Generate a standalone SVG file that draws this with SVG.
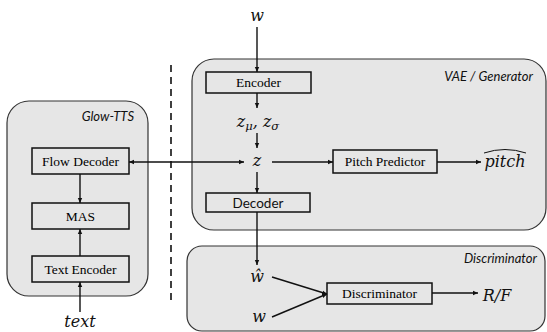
<svg xmlns="http://www.w3.org/2000/svg" width="547" height="332" viewBox="0 0 547 332">
<style>
.panel{fill:#e6e6e6;stroke:#333;stroke-width:1.2}
.box{fill:#e6e6e6;stroke:#111;stroke-width:1.5}
.serif{font-family:"Liberation Serif","Times New Roman",serif;font-size:13.5px;fill:#000;text-anchor:middle}
.sans{font-family:Lato,"Liberation Sans",sans-serif;font-size:13.5px;fill:#111;text-anchor:middle}
.lbl{font-family:Lato,"Liberation Sans",sans-serif;font-size:13px;font-style:italic;fill:#111;text-anchor:end}
.math{font-family:"DejaVu Serif",serif;font-style:italic;font-size:16px;fill:#111;text-anchor:middle}
.conn line{stroke:#111;stroke-width:1.4;fill:none}
.dash{stroke:#111;stroke-width:1.6;stroke-dasharray:7 5}
</style>
<defs>
<marker id="ah" markerUnits="userSpaceOnUse" markerWidth="6" markerHeight="6" refX="5" refY="3" orient="auto-start-reverse">
<path d="M0,0.8 L5,3 L0,5.2 Z" fill="#111"/>
</marker>
</defs>

<g id="glow-tts">
<rect class="panel" x="7" y="101" width="141" height="195" rx="22"/>
<text class="lbl" x="134" y="121">Glow-TTS</text>
</g>
<g id="vae">
<rect class="panel" x="192" y="59" width="354" height="171" rx="22"/>
<text class="lbl" x="533" y="81">VAE / Generator</text>
</g>
<g id="disc-panel">
<rect class="panel" x="187" y="246" width="358" height="85" rx="15"/>
<text class="lbl" x="537" y="263">Discriminator</text>
</g>

<line class="dash" x1="171" y1="65" x2="171" y2="303"/>

<g id="flow-decoder"><rect class="box" x="32" y="148" width="97" height="26"/><text class="serif" x="80.5" y="165.5">Flow Decoder</text></g>
<g id="mas"><rect class="box" x="32" y="203" width="97" height="26"/><text class="serif" x="80.5" y="220.5">MAS</text></g>
<g id="text-encoder"><rect class="box" x="32" y="256" width="97" height="26"/><text class="serif" x="80.5" y="273.5">Text Encoder</text></g>
<g id="encoder"><rect class="box" x="206" y="72" width="105" height="21"/><text class="serif" x="258.5" y="87">Encoder</text></g>
<g id="pitch-predictor"><rect class="box" x="333" y="150" width="104" height="23"/><text class="serif" x="385" y="166">Pitch Predictor</text></g>
<g id="decoder"><rect class="box" x="206" y="193" width="104" height="19"/><text class="sans" x="258" y="207.5">Decoder</text></g>
<g id="discriminator"><rect class="box" x="327" y="283" width="105" height="21"/><text class="serif" x="379.5" y="298">Discriminator</text></g>

<g id="w-in"><text class="math" x="257" y="21">w</text></g>
<g id="zmu"><text class="math" x="258" y="127">z<tspan font-size="11.5" dy="3">μ</tspan><tspan dy="-3">, z</tspan><tspan font-size="11.5" dy="3">σ</tspan></text></g>
<g id="z"><text class="math" x="257" y="166">z</text></g>
<g id="pitch"><text class="math" x="505" y="167" font-size="17">pitch</text><path d="M484,153 Q505,146 526,153" fill="none" stroke="#111" stroke-width="1"/></g>
<g id="w-hat"><text class="math" x="257" y="282">ŵ</text></g>
<g id="w-real"><text class="math" x="259" y="322">w</text></g>
<g id="rf"><text class="math" x="497" y="301">R/F</text></g>
<g id="text-in"><text class="math" x="80" y="327" font-size="15">text</text></g>

<g id="connectors" class="conn">
<line x1="257" y1="27" x2="257" y2="72" marker-end="url(#ah)"/>
<line x1="257" y1="93" x2="257" y2="108" marker-end="url(#ah)"/>
<line x1="257" y1="133" x2="257" y2="148" marker-end="url(#ah)"/>
<line x1="129" y1="162" x2="244" y2="162" marker-start="url(#ah)" marker-end="url(#ah)"/>
<line x1="272" y1="162" x2="333" y2="162" marker-end="url(#ah)"/>
<line x1="437" y1="162" x2="481" y2="162" marker-end="url(#ah)"/>
<line x1="257" y1="172" x2="257" y2="193" marker-end="url(#ah)"/>
<line x1="257" y1="212" x2="257" y2="265" marker-end="url(#ah)"/>
<line x1="272" y1="277" x2="327" y2="294" marker-end="url(#ah)"/>
<line x1="272" y1="317" x2="327" y2="294" marker-end="url(#ah)"/>
<line x1="432" y1="293" x2="478" y2="293" marker-end="url(#ah)"/>
<line x1="80" y1="174" x2="80" y2="203" marker-end="url(#ah)"/>
<line x1="80" y1="256" x2="80" y2="229" marker-end="url(#ah)"/>
<line x1="80" y1="312" x2="80" y2="282" marker-end="url(#ah)"/>
</g>
</svg>
